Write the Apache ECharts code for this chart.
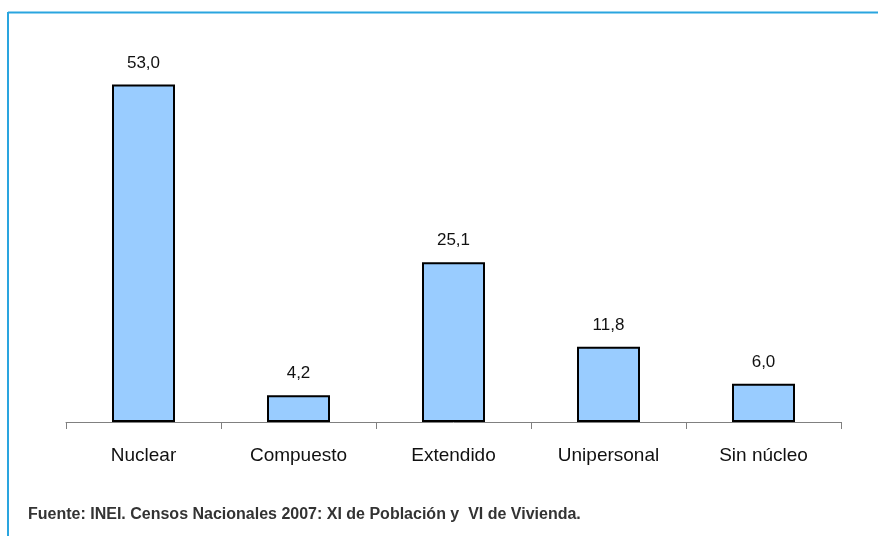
<!DOCTYPE html>
<html>
<head>
<meta charset="utf-8">
<script src="https://cdn.jsdelivr.net/npm/echarts@6/dist/echarts.min.js"></script>
<style>
html,body{margin:0;padding:0;background:#fff;}
#c{width:878px;height:536px;}
</style>
</head>
<body>
<div id="c"></div>
<script>
const categories = ['Nuclear', 'Compuesto', 'Extendido', 'Unipersonal', 'Sin núcleo'];
const values = [53.0, 4.2, 25.1, 11.8, 6.0];
const sourceText = 'Fuente: INEI. Censos Nacionales 2007: XI de Población y  VI de Vivienda.';
const FONT = '"Liberation Sans", Arial, sans-serif';

const chart = echarts.init(document.getElementById('c'));
chart.setOption({
  animation: false,
  backgroundColor: '#ffffff',
  grid: { left: 66, right: 37, top: 40, bottom: 114 },
  xAxis: {
    type: 'category',
    data: categories,
    boundaryGap: true,
    axisLine: { lineStyle: { color: '#808080', width: 1 } },
    axisTick: { show: true, alignWithLabel: false, length: 7, lineStyle: { color: '#808080' } },
    axisLabel: { margin: 24, fontFamily: FONT, fontSize: 19, color: '#111' }
  },
  yAxis: {
    type: 'value', min: 0, max: 60, show: false,
    splitLine: { show: false }
  },
  series: [{
    type: 'bar',
    data: values,
    barWidth: 63,
    itemStyle: { color: '#99ccff', borderColor: '#000', borderWidth: 2 },
    label: {
      show: true, position: 'top', distance: 13,
      fontFamily: FONT, fontSize: 17, color: '#111',
      formatter: p => p.value.toFixed(1).replace('.', ',')
    }
  }],
  graphic: [
    { type: 'line', shape: { x1: 8, y1: 12.5, x2: 878, y2: 12.5 }, style: { stroke: '#2aa5df', lineWidth: 2 } },
    { type: 'line', shape: { x1: 8, y1: 12, x2: 8, y2: 536 }, style: { stroke: '#2aa5df', lineWidth: 2 } },
    { type: 'text', left: 28, top: 507, style: { text: sourceText, font: 'bold 16px ' + FONT, fill: '#333' } }
  ]
});
</script>
</body>
</html>
